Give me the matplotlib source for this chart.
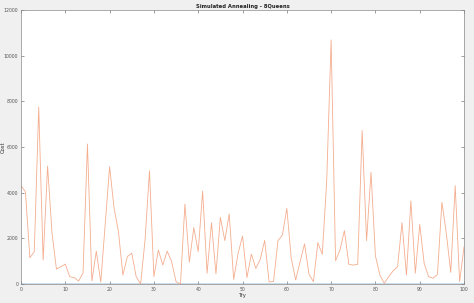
import matplotlib
matplotlib.use("Agg")
import matplotlib.pyplot as plt

tries = list(range(101))
cost = [4300, 4040, 1150, 1415, 7750, 1050, 5170, 2230, 650, 760,
        870, 320, 280, 130, 480, 6130, 130, 1440, 80, 2600,
        5140, 3330, 2290, 390, 1200, 1350, 320, 0, 1930, 4960,
        320, 1490, 830, 1440, 980, 100, 0, 3500, 950, 2470,
        1420, 4070, 470, 2690, 440, 2920, 1900, 3070, 200, 1340,
        2100, 280, 1310, 680, 1080, 1910, 90, 110, 1900, 2140,
        3310, 1120, 180, 980, 1760, 430, 100, 1810, 1300, 4500,
        10690, 1020, 1490, 2340, 860, 830, 860, 6720, 1900, 4890,
        1230, 390, 30, 320, 580, 760, 2690, 390, 3640, 470,
        2610, 900, 320, 250, 420, 3580, 2220, 510, 4310, 100,
        1630]
final_cost = [1, 0, 1, 0, 0, 1, 0, 0, 1, 0,
              0, 1, 0, 0, 0, 1, 0, 1, 0, 0,
              1, 0, 0, 1, 0, 0, 0, 0, 1, 0,
              0, 1, 0, 0, 1, 0, 0, 1, 0, 0,
              1, 0, 0, 0, 1, 0, 0, 1, 0, 0,
              1, 0, 0, 1, 0, 0, 0, 0, 1, 0,
              0, 1, 0, 0, 1, 0, 0, 0, 1, 0,
              0, 1, 0, 0, 1, 0, 0, 1, 0, 0,
              1, 0, 0, 0, 1, 0, 0, 1, 0, 0,
              1, 0, 0, 1, 0, 0, 0, 1, 0, 0,
              1]
xticks = list(range(0, 101, 10))
yticks = list(range(0, 12001, 2000))

fig = plt.figure(figsize=(4.74, 3.03), dpi=100, facecolor="#f0f0f0")
ax = fig.add_axes([0.0443, 0.0627, 0.9347, 0.9043])
ax.set_facecolor("white")
ax.plot(tries, final_cost, color="#7fb2d8", lw=0.6)
ax.plot(tries, cost, color="#f4ad8e", lw=0.6)
ax.set_xlim(0, 100)
ax.set_ylim(0, 12000)
ax.set_xticks(xticks)
ax.set_yticks(yticks)
ax.set_xticklabels([str(v) for v in xticks])
ax.set_yticklabels([str(v) for v in yticks])
tc = "#555555"
ax.tick_params(direction="in", length=2.5, width=0.4, labelsize=3.3, colors=tc,
               top=True, right=True, pad=2)
for s in ax.spines.values():
    s.set_color("#888888")
    s.set_linewidth(0.5)
ax.set_xlabel("Try", fontsize=3.8, color="#333333", labelpad=1)
ax.set_ylabel("Cost", fontsize=3.8, color="#333333")
ax.yaxis.set_label_coords(-0.035, 0.5)
ax.set_title("Simulated Annealing - 8Queens", fontsize=3.8, fontweight="bold",
             color="#222222", pad=1.5)
fig.savefig("out.png", dpi=100, facecolor=fig.get_facecolor())
